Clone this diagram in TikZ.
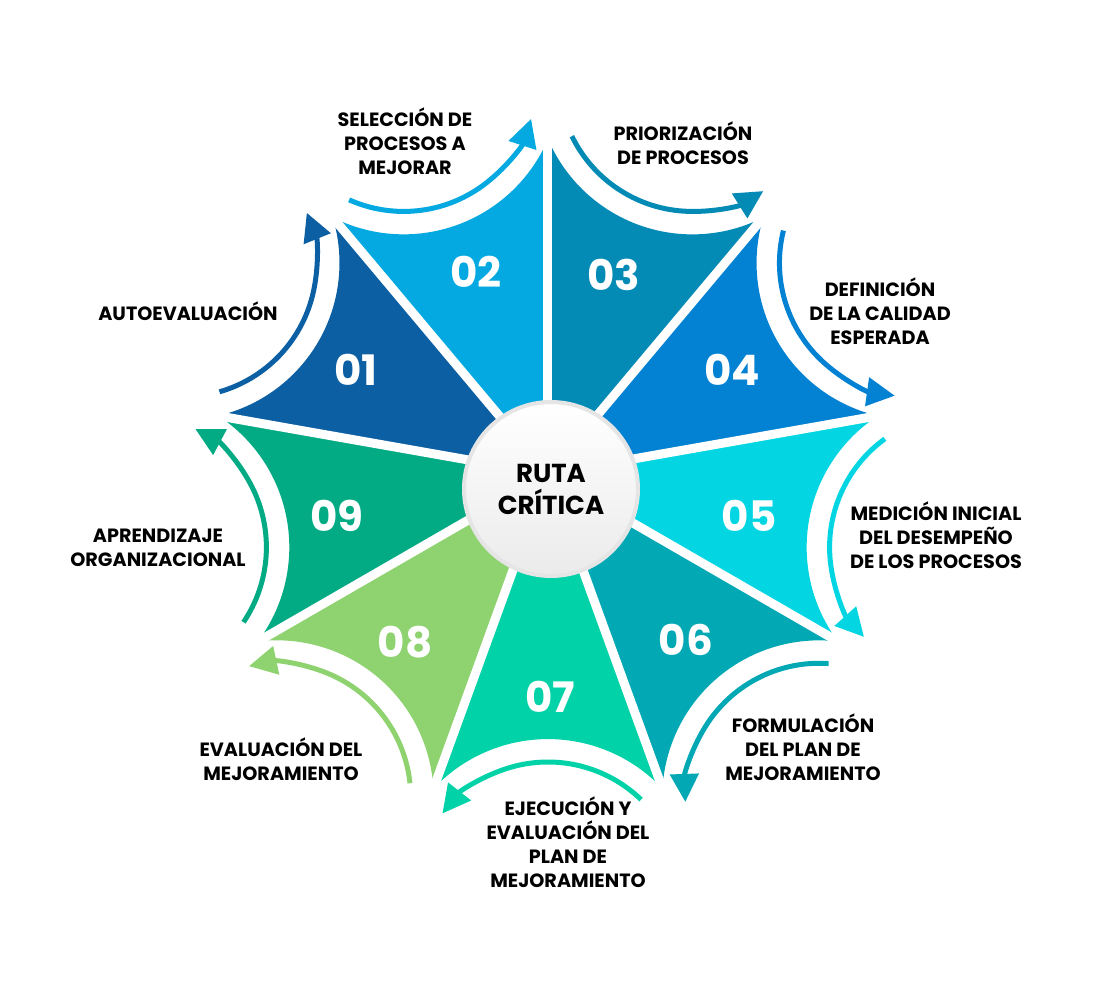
\documentclass[tikz,border=0pt]{standalone}
\usepackage{fontspec}
\setmainfont{Poppins}
\usetikzlibrary{arrows.meta}
\definecolor{paso1}{HTML}{0C5FA3}
\definecolor{paso2}{HTML}{03A9E0}
\definecolor{paso3}{HTML}{048BB5}
\definecolor{paso4}{HTML}{0381D2}
\definecolor{paso5}{HTML}{03D6E2}
\definecolor{paso6}{HTML}{02A9B5}
\definecolor{paso7}{HTML}{02D2A8}
\definecolor{paso8}{HTML}{8FD270}
\definecolor{paso9}{HTML}{02AB84}

\begin{document}
\begin{tikzpicture}[x=0.5pt, y=0.5pt,
        etiqueta/.style={align=center, font=\bfseries\fontsize{9.6}{12}\selectfont},
        numero/.style={text=white, font=\bfseries\fontsize{21}{21}\selectfont},
        flecha/.style={line width=2.5pt, -{Triangle[length=14pt, width=14pt]}}]
        \useasboundingbox (-548,-526) rectangle (552,474);
        \foreach \i in {1,...,9} {
            \pgfmathsetmacro{\m}{190-40*\i}
            \fill[paso\i] (0,0) -- ({\m+20}:335) arc[start angle={\m+133.1}, end angle={\m+226.9}, radius=157] -- cycle;
            \draw[paso\i, flecha, shift={(\m:422)}] ({\m+136}:134) arc[start angle={\m+136}, end angle={\m+232}, radius=134];
        }
        \foreach \i in {1,...,9}
            \draw[white, line width=4.5pt] (0,0) -- ({210-40*\i}:337);
        \foreach \i/\nx/\ny in {1/-192/104, 2/-72/202, 3/66/199, 4/184/104, 5/201/-42, 6/138/-166, 7/2/-223, 8/-143/-168, 9/-211/-42}
            \node[numero] (num\i) at (\nx,\ny) {0\i};
        \node[circle, minimum size=87pt, draw=black!10, line width=2pt, top color=white, bottom color=black!8, align=center, font=\bfseries\fontsize{13}{16}\selectfont] (ruta) at (3,-15) {RUTA\\CRÍTICA};
        \node[etiqueta] (autoevaluacion) at (-360,163) {AUTOEVALUACIÓN};
        \node[etiqueta] (seleccion) at (-143,333) {SELECCIÓN DE\\PROCESOS A\\MEJORAR};
        \node[etiqueta] (priorizacion) at (135,331) {PRIORIZACIÓN\\DE PROCESOS};
        \node[etiqueta] (definicion) at (332,163) {DEFINICIÓN\\DE LA CALIDAD\\ESPERADA};
        \node[etiqueta] (medicion) at (388,-61) {MEDICIÓN INICIAL\\DEL DESEMPEÑO\\DE LOS PROCESOS};
        \node[etiqueta] (formulacion) at (255,-273) {FORMULACIÓN\\DEL PLAN DE\\MEJORAMIENTO};
        \node[etiqueta] (ejecucion) at (20,-368) {EJECUCIÓN Y\\EVALUACIÓN DEL\\PLAN DE\\MEJORAMIENTO};
        \node[etiqueta] (evaluacion) at (-267,-285) {EVALUACIÓN DEL\\MEJORAMIENTO};
        \node[etiqueta] (aprendizaje) at (-390,-74) {APRENDIZAJE\\ORGANIZACIONAL};
\end{tikzpicture}
\end{document}
